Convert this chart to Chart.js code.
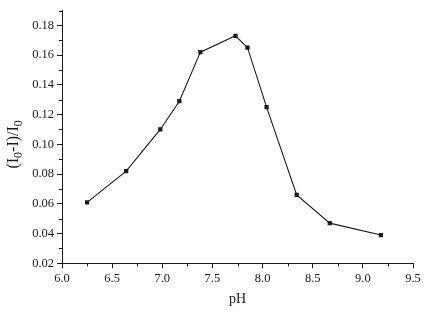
<!DOCTYPE html>
<html>
<head>
<meta charset="utf-8">
<script src="https://cdn.jsdelivr.net/npm/chart.js@4/dist/chart.umd.min.js"></script>
<style>
  html, body { margin: 0; padding: 0; background: #fff; }
  #wrap { width: 439px; height: 316px; position: relative; }
</style>
</head>
<body>
<div id="wrap"><canvas id="c" width="439" height="316"></canvas></div>
<script>
const phValues = [6.25, 6.64, 6.98, 7.17, 7.38, 7.73, 7.85, 8.04, 8.34, 8.67, 9.18];
const quenchValues = [0.061, 0.082, 0.110, 0.129, 0.162, 0.173, 0.165, 0.125, 0.066, 0.047, 0.039];
const xTickValues = [6.0, 6.5, 7.0, 7.5, 8.0, 8.5, 9.0, 9.5];
const yTickValues = [0.02, 0.04, 0.06, 0.08, 0.10, 0.12, 0.14, 0.16, 0.18];
const xMinorTicks = [6.25, 6.75, 7.25, 7.75, 8.25, 8.75, 9.25];
const yMinorTicks = [0.03, 0.05, 0.07, 0.09, 0.11, 0.13, 0.15, 0.17, 0.19];
const xTitle = 'pH';
// y title "(I0-I)/I0" as runs: [text, isSubscript]
const yTitleParts = [['(I', false], ['0', true], ['-I)/I', false], ['0', true]];

const FONT = "'Liberation Serif', 'Times New Roman', serif";
const INK = '#1a1a1a';

const minorTicksPlugin = {
  id: 'minorTicks',
  afterDraw(chart) {
    const ctx = chart.ctx;
    const xs = chart.scales.x, ys = chart.scales.y;
    const area = chart.chartArea;
    ctx.save();
    ctx.strokeStyle = INK;
    ctx.lineWidth = 1;
    ctx.beginPath();
    xMinorTicks.forEach(v => {
      const px = Math.round(xs.getPixelForValue(v)) + 0.5;
      ctx.moveTo(px, area.bottom);
      ctx.lineTo(px, area.bottom + 3);
    });
    yMinorTicks.forEach(v => {
      const py = Math.round(ys.getPixelForValue(v)) + 0.5;
      ctx.moveTo(area.left - 3, py);
      ctx.lineTo(area.left, py);
    });
    ctx.stroke();

    // y-axis title with real subscripts
    const mainFont = '16px ' + FONT;
    const subFont = '12px ' + FONT;
    let total = 0;
    const widths = yTitleParts.map(([t, sub]) => {
      ctx.font = sub ? subFont : mainFont;
      const w = ctx.measureText(t).width;
      total += w;
      return w;
    });
    const cy = (area.top + area.bottom) / 2 + 7.5;
    ctx.translate(14, cy);
    ctx.rotate(-Math.PI / 2);
    ctx.fillStyle = INK;
    ctx.textAlign = 'left';
    ctx.textBaseline = 'middle';
    let pos = -total / 2;
    yTitleParts.forEach(([t, sub], i) => {
      ctx.font = sub ? subFont : mainFont;
      ctx.fillText(t, pos, sub ? 5 : 0);
      pos += widths[i];
    });
    ctx.restore();
  }
};

new Chart(document.getElementById('c'), {
  type: 'line',
  data: {
    datasets: [{
      data: phValues.map((x, i) => ({ x: x, y: quenchValues[i] })),
      borderColor: INK,
      backgroundColor: INK,
      borderWidth: 1.1,
      pointStyle: 'rect',
      pointRadius: 3,
      pointBorderWidth: 0,
      pointBackgroundColor: INK,
      tension: 0,
      fill: false
    }]
  },
  options: {
    responsive: false,
    animation: false,
    devicePixelRatio: 1,
    layout: { padding: { top: 8, right: 26, bottom: 0, left: 0 } },
    plugins: { legend: { display: false }, tooltip: { enabled: false } },
    scales: {
      x: {
        type: 'linear',
        min: 6.0,
        max: 9.5,
        afterBuildTicks(scale) { scale.ticks = xTickValues.map(v => ({ value: v })); },
        afterFit(scale) { scale.height = 52.7; },
        border: { display: true, color: INK, width: 1 },
        grid: { display: true, drawOnChartArea: false, drawTicks: true, tickLength: 5, color: INK },
        ticks: {
          color: INK,
          padding: 3,
          maxRotation: 0,
          font: { family: FONT, size: 12.5 },
          callback: v => Number(v).toFixed(1)
        },
        title: {
          display: true,
          text: xTitle,
          color: INK,
          font: { family: FONT, size: 14 },
          padding: { top: 0, bottom: 8 }
        }
      },
      y: {
        type: 'linear',
        min: 0.02,
        max: 0.19,
        afterBuildTicks(scale) { scale.ticks = yTickValues.map(v => ({ value: v })); },
        afterFit(scale) { scale.width = 62; },
        border: { display: true, color: INK, width: 1 },
        grid: { display: true, drawOnChartArea: false, drawTicks: true, tickLength: 5, color: INK },
        ticks: {
          color: INK,
          padding: 3,
          font: { family: FONT, size: 12.5 },
          callback: v => Number(v).toFixed(2)
        },
        title: { display: false }
      }
    }
  },
  plugins: [minorTicksPlugin]
});
</script>
</body>
</html>
